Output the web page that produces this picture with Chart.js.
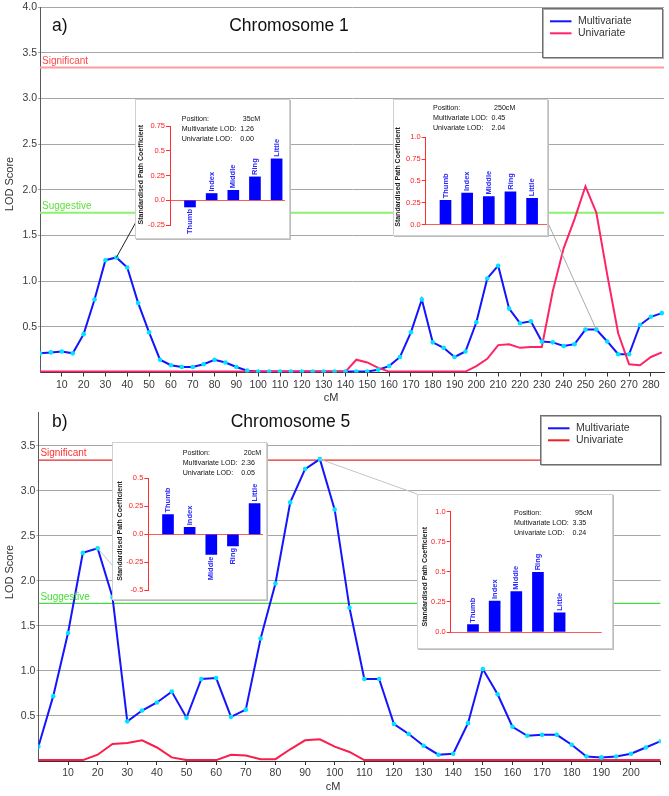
<!DOCTYPE html>
<html>
<head>
<meta charset="utf-8">
<script src="https://cdn.jsdelivr.net/npm/chart.js@4.4.0/dist/chart.umd.min.js"></script>
<style>
  body { margin: 0; background: #fff; }
  #wrap { position: relative; width: 669px; height: 796px; overflow: hidden; background: #fff; }
  canvas { position: absolute; }
  .box { position: absolute; background: #fff; border: 1px solid #d0d0d0; box-sizing: border-box; box-shadow: 1px 1px 0 #bcbcbc; }
</style>
</head>
<body>
<div id="wrap">
  <canvas id="chr1" width="669" height="405" style="left:0;top:0"></canvas>
  <canvas id="chr5" width="669" height="391" style="left:0;top:405px"></canvas>
</div>
<script>
Chart.defaults.font.family = '"Liberation Sans", Arial, Helvetica, sans-serif';
Chart.defaults.animation = false;

// --- Chromosome 1 (LOD por posição, cM) ---
const chr1Pos = [0, 5, 10, 15, 20, 25, 30, 35, 40, 45, 50, 55, 60, 65, 70, 75, 80, 85, 90, 95,
  100, 105, 110, 115, 120, 125, 130, 135, 140, 145, 150, 155, 160, 165, 170, 175, 180, 185, 190, 195,
  200, 205, 210, 215, 220, 225, 230, 235, 240, 245, 250, 255, 260, 265, 270, 275, 280, 285];
const chr1Multi = [0.21, 0.22, 0.23, 0.21, 0.42, 0.80, 1.23, 1.26, 1.15, 0.76, 0.44, 0.14, 0.08, 0.06, 0.06, 0.09, 0.14, 0.11, 0.06, 0.02,
  0.01, 0.01, 0.01, 0.01, 0.01, 0.01, 0.01, 0.01, 0.01, 0.01, 0.01, 0.03, 0.07, 0.17, 0.44, 0.80, 0.33, 0.27, 0.17, 0.23,
  0.55, 1.03, 1.17, 0.70, 0.54, 0.56, 0.34, 0.33, 0.29, 0.31, 0.47, 0.47, 0.34, 0.20, 0.20, 0.52, 0.61, 0.65];
const chr1Uni = [0.01, 0.01, 0.01, 0.01, 0.01, 0.01, 0.01, 0.01, 0.01, 0.01, 0.01, 0.01, 0.01, 0.01, 0.01, 0.01, 0.01, 0.01, 0.01, 0.01,
  0.01, 0.01, 0.01, 0.01, 0.01, 0.01, 0.01, 0.01, 0.01, 0.14, 0.11, 0.05, 0.01, 0.01, 0.01, 0.01, 0.01, 0.01, 0.01, 0.01,
  0.07, 0.15, 0.30, 0.31, 0.27, 0.28, 0.28, 0.89, 1.36, 1.68, 2.04, 1.75, 1.07, 0.43, 0.09, 0.08, 0.17, 0.22];
const chr1XTicks = [10, 20, 30, 40, 50, 60, 70, 80, 90, 100, 110, 120, 130, 140, 150, 160, 170, 180, 190, 200, 210, 220, 230, 240, 250, 260, 270, 280];
const chr1YTicks = [0.5, 1.0, 1.5, 2.0, 2.5, 3.0, 3.5, 4.0];

// --- Chromosome 5 ---
const chr5Pos = [0, 5, 10, 15, 20, 25, 30, 35, 40, 45, 50, 55, 60, 65, 70, 75, 80, 85, 90, 95,
  100, 105, 110, 115, 120, 125, 130, 135, 140, 145, 150, 155, 160, 165, 170, 175, 180, 185, 190, 195, 200, 205, 210];
const chr5Multi = [0.16, 0.72, 1.42, 2.31, 2.36, 1.82, 0.44, 0.56, 0.65, 0.77, 0.48, 0.91, 0.92, 0.49, 0.57, 1.36, 1.97, 2.87, 3.24, 3.35,
  2.79, 1.70, 0.91, 0.91, 0.41, 0.30, 0.17, 0.07, 0.08, 0.42, 1.02, 0.74, 0.38, 0.28, 0.29, 0.29, 0.18, 0.05, 0.04, 0.05, 0.08, 0.15, 0.22];
const chr5Uni = [0.01, 0.01, 0.01, 0.01, 0.07, 0.19, 0.20, 0.23, 0.15, 0.04, 0.01, 0.01, 0.01, 0.07, 0.06, 0.02, 0.02, 0.13, 0.23, 0.24,
  0.16, 0.10, 0.01, 0.01, 0.01, 0.01, 0.01, 0.01, 0.01, 0.01, 0.01, 0.01, 0.01, 0.01, 0.01, 0.01, 0.01, 0.01, 0.01, 0.01, 0.01, 0.01, 0.01];
const chr5XTicks = [10, 20, 30, 40, 50, 60, 70, 80, 90, 100, 110, 120, 130, 140, 150, 160, 170, 180, 190, 200, 210];
const chr5YTicks = [0.5, 1.0, 1.5, 2.0, 2.5, 3.0, 3.5];

// Limiares
const SIGNIFICANT = 3.34;
const SUGGESTIVE = 1.75;

// --- Coeficientes dos quadros internos ---
const fingers = ['Thumb', 'Index', 'Middle', 'Ring', 'Little'];
const coefChr1At35 = [-0.068, 0.068, 0.10, 0.236, 0.418];
const coefChr1At250 = [0.277, 0.36, 0.32, 0.376, 0.30];
const coefChr5At20 = [0.176, 0.063, -0.18, -0.104, 0.274];
const coefChr5At95 = [0.061, 0.258, 0.335, 0.496, 0.16];

const FONT = '"Liberation Sans", Arial, Helvetica, sans-serif';
const BLUE = '#1414ff';

// textos, legenda e linhas de ligação do gráfico principal
const mainDecor = {
  id: 'mainDecor',
  afterDatasetsDraw(chart, args, o) {
    const { ctx, chartArea: a, scales: { x, y } } = chart;
    ctx.save();
    // linhas para os quadros
    o.leaders.forEach(l => {
      const p = chart.data.datasets[0].data[l.index];
      ctx.strokeStyle = l.color;
      ctx.lineWidth = 1;
      ctx.beginPath();
      ctx.moveTo(x.getPixelForValue(p.x), y.getPixelForValue(p.y));
      ctx.lineTo(l.to[0], l.to[1]);
      ctx.stroke();
    });
    // rótulos dos limiares
    ctx.font = '10px ' + FONT;
    ctx.textAlign = 'left';
    ctx.textBaseline = 'middle';
    ctx.fillStyle = o.sigText;
    ctx.fillText('Significant', a.left + 2, y.getPixelForValue(SIGNIFICANT) - 6.5);
    ctx.fillStyle = o.sugText;
    ctx.fillText('Suggestive', a.left + 2, y.getPixelForValue(SUGGESTIVE) - 6.5);
    // título
    ctx.fillStyle = '#111';
    ctx.font = '17.5px ' + FONT;
    ctx.fillText(o.letter, 52, o.titleY);
    ctx.textAlign = 'center';
    ctx.fillText(o.title, o.titleX, o.titleY);
    // eixos
    ctx.font = '11px ' + FONT;
    ctx.fillStyle = '#333';
    ctx.fillText('cM', o.xTitle[0], o.xTitle[1]);
    ctx.save();
    ctx.translate(10, o.yTitleY);
    ctx.rotate(-Math.PI / 2);
    ctx.fillText('LOD Score', 0, 0);
    ctx.restore();
    // legenda
    const L = o.legend;
    ctx.fillStyle = '#fff';
    ctx.fillRect(L.x, L.y, 120, 49);
    ctx.strokeStyle = '#b0b0b0';
    ctx.lineWidth = 1;
    ctx.strokeRect(L.x + 1, L.y + 1, 120, 49);
    ctx.strokeStyle = '#6e6e6e';
    ctx.strokeRect(L.x, L.y, 120, 49);
    [['Multivariate', BLUE], ['Univariate', o.uniColor]].forEach((e, i) => {
      const ly = L.y + 12.8 + i * 12;
      ctx.strokeStyle = e[1];
      ctx.lineWidth = 2;
      ctx.beginPath();
      ctx.moveTo(L.x + 7.5, ly);
      ctx.lineTo(L.x + 29, ly);
      ctx.stroke();
      ctx.fillStyle = '#333';
      ctx.font = '10.5px ' + FONT;
      ctx.textAlign = 'left';
      ctx.fillText(e[0], L.x + 35.5, ly);
    });
    ctx.restore();
  }
};

function mainChart(id, o) {
  const xy = vals => o.pos.map((p, i) => ({ x: p, y: vals[i] }));
  return new Chart(document.getElementById(id), {
    type: 'line',
    data: {
      datasets: [
        { data: xy(o.multi), showLine: false, pointRadius: 2.3, pointBackgroundColor: '#00e4ff', pointBorderWidth: 0 },
        { data: xy(o.uni), borderColor: o.uniColor, borderWidth: 2, pointRadius: 0 },
        { data: xy(o.multi), borderColor: BLUE, borderWidth: 2, pointRadius: 0 },
        { data: [{ x: 0, y: SIGNIFICANT }, { x: o.xMax, y: SIGNIFICANT }], borderColor: o.sigColor, borderWidth: o.thrWidth, pointRadius: 0 },
        { data: [{ x: 0, y: SUGGESTIVE }, { x: o.xMax, y: SUGGESTIVE }], borderColor: o.sugColor, borderWidth: o.thrWidth, pointRadius: 0 }
      ]
    },
    options: {
      responsive: false,
      animation: false,
      events: [],
      layout: { padding: { top: o.padTop, right: o.padRight, left: 0, bottom: 0 } },
      scales: {
        x: {
          type: 'linear', min: 0, max: o.xMax,
          afterBuildTicks: s => { s.ticks = o.xTicks.map(v => ({ value: v })); },
          afterFit: s => { s.height = o.xAxisH; },
          ticks: { autoSkip: false, maxRotation: 0, color: '#3a3a3a', font: { size: 10.5 }, padding: 2,
            callback: v => (v >= o.xMax ? '' : String(v)) },
          grid: { drawOnChartArea: false, color: '#333', tickLength: 4 },
          border: { color: '#333' }
        },
        y: {
          min: 0, max: o.yMax,
          afterBuildTicks: s => { s.ticks = o.yTicks.map(v => ({ value: v })); },
          afterFit: s => { s.width = o.yAxisW; },
          ticks: { color: '#3a3a3a', font: { size: 10.5 }, padding: 1, callback: v => v.toFixed(1) },
          grid: { color: '#a6a6a6', tickLength: 2 },
          border: { color: '#5a5a5a' }
        }
      },
      plugins: { legend: { display: false }, tooltip: { enabled: false }, mainDecor: o.decor }
    },
    plugins: [mainDecor]
  });
}

mainChart('chr1', {
  pos: chr1Pos, multi: chr1Multi, uni: chr1Uni, xTicks: chr1XTicks, yTicks: chr1YTicks,
  xMax: 286, yMax: 4, padTop: 7.3, padRight: 5, xAxisH: 32.5, yAxisW: 40,
  uniColor: '#ff2466', sigColor: '#ff9c9c', sugColor: '#8cf070', thrWidth: 2,
  decor: {
    letter: 'a)', title: 'Chromosome 1', titleX: 289, titleY: 26,
    xTitle: [331, 398], yTitleY: 184, legend: { x: 542.5, y: 8.5 }, uniColor: '#ff2466',
    sigText: '#ff4848', sugText: '#5ee03c',
    leaders: [{ index: chr1Pos.indexOf(35), to: [136, 222], color: '#222' },
              { index: chr1Pos.indexOf(255), to: [548, 223], color: '#aaa' }]
  }
});

mainChart('chr5', {
  pos: chr5Pos, multi: chr5Multi, uni: chr5Uni, xTicks: chr5XTicks, yTicks: chr5YTicks,
  xMax: 210, yMax: 3.87, padTop: 2.7, padRight: 8.4, xAxisH: 35, yAxisW: 38.4,
  uniColor: '#f8204a', sigColor: '#e82828', sugColor: '#4ad84a', thrWidth: 1.2,
  decor: {
    letter: 'b)', title: 'Chromosome 5', titleX: 290.5, titleY: 16.7,
    xTitle: [333, 381.7], yTitleY: 167, legend: { x: 540.5, y: 10.5 }, uniColor: '#f02020',
    sigText: '#ff3030', sugText: '#44dd33',
    leaders: [{ index: chr5Pos.indexOf(20), to: [112, 160], color: '#c4c4c4' },
              { index: chr5Pos.indexOf(95), to: [417, 89], color: '#c4c4c4' }]
  }
});

// --- quadros internos com coeficientes ---
const insetDecor = {
  id: 'insetDecor',
  afterDatasetsDraw(chart, args, o) {
    const ctx = chart.ctx;
    const meta = chart.getDatasetMeta(0);
    ctx.save();
    ctx.font = 'bold 7.5px ' + FONT;
    ctx.fillStyle = '#2828ff';
    ctx.textBaseline = 'middle';
    meta.data.forEach((bar, i) => {
      const v = o.values[i];
      ctx.save();
      ctx.translate(bar.x, v >= 0 ? bar.y - 2 : bar.y + 2);
      ctx.rotate(-Math.PI / 2);
      ctx.textAlign = v >= 0 ? 'left' : 'right';
      ctx.fillText(fingers[i], 0, 0);
      ctx.restore();
    });
    ctx.font = '7.1px ' + FONT;
    ctx.fillStyle = '#111';
    ctx.textAlign = 'left';
    const rows = [['Position:', o.pos, 61], ['Multivariate LOD:', o.multi, 58.5], ['Univariate LOD:', o.uni, 58.5]];
    rows.forEach((r, i) => {
      ctx.fillText(r[0], o.textX, o.textY + i * 10);
      ctx.fillText(r[1], o.textX + r[2], o.textY + i * 10);
    });
    ctx.save();
    ctx.translate(o.titleX, o.titleY);
    ctx.rotate(-Math.PI / 2);
    ctx.textAlign = 'center';
    ctx.font = 'bold 7px ' + FONT;
    ctx.fillStyle = '#222';
    ctx.fillText('Standardised Path Coefficient', 0, 0);
    ctx.restore();
    ctx.restore();
  }
};

function inset(c) {
  const wrap = document.getElementById('wrap');
  const box = document.createElement('div');
  box.className = 'box';
  Object.assign(box.style, { left: c.x + 'px', top: c.y + 'px', width: c.w + 'px', height: c.h + 'px' });
  wrap.appendChild(box);
  const cv = document.createElement('canvas');
  cv.width = c.w; cv.height = c.h;
  Object.assign(cv.style, { left: c.x + 'px', top: c.y + 'px' });
  wrap.appendChild(cv);

  const step = 21.65; // distância entre barras em px
  const xMin = 1 - (c.c1 - c.axisX) / step;
  const xMax = xMin + (c.right - c.axisX) / step;
  new Chart(cv, {
    type: 'bar',
    data: { datasets: [{ data: c.values.map((v, i) => ({ x: i + 1, y: v })), backgroundColor: '#0000ff',
      barThickness: 11, grouped: false }] },
    options: {
      responsive: false, animation: false, events: [],
      layout: { padding: { left: 0, top: c.top - c.y, right: c.x + c.w - c.right, bottom: c.y + c.h - c.bottom } },
      scales: {
        x: { type: 'linear', offset: false, display: false, min: xMin, max: xMax },
        y: {
          min: c.yMin, max: c.yMax,
          afterFit: s => { s.width = c.axisX - c.x; },
          ticks: { stepSize: 0.25, color: '#ff2020', font: { size: 7.5 }, padding: 1,
            callback: v => (Math.abs(v * 2 - Math.round(v * 2)) < 1e-9 ? v.toFixed(1) : v.toFixed(2)) },
          grid: { color: ctx => (ctx.tick && ctx.tick.value === 0 ? '#ff5a5a' : 'rgba(0,0,0,0)'), tickColor: '#ff3030', tickLength: 4 },
          border: { color: '#ff3030' }
        }
      },
      plugins: { legend: { display: false }, tooltip: { enabled: false }, insetDecor: c.decor }
    },
    plugins: [insetDecor]
  });
}

inset({ x: 135, y: 99, w: 155, h: 140, axisX: 170, top: 126, bottom: 225, right: 285, c1: 190,
  yMin: -0.25, yMax: 0.75, values: coefChr1At35,
  decor: { values: coefChr1At35, pos: '35cM', multi: '1.26', uni: '0.00', textX: 46.7, textY: 20.3, titleX: 6.5, titleY: 75.6 } });
inset({ x: 393, y: 99, w: 155, h: 137, axisX: 425.7, top: 137.3, bottom: 224.5, right: 547, c1: 445.5,
  yMin: 0, yMax: 1, values: coefChr1At250,
  decor: { values: coefChr1At250, pos: '250cM', multi: '0.45', uni: '2.04', textX: 40, textY: 9.3, titleX: 5.3, titleY: 78 } });
inset({ x: 112, y: 442, w: 155, h: 158, axisX: 148.3, top: 478.3, bottom: 590.3, right: 263, c1: 168,
  yMin: -0.5, yMax: 0.5, values: coefChr5At20,
  decor: { values: coefChr5At20, pos: '20cM', multi: '2.36', uni: '0.05', textX: 70.7, textY: 10.7, titleX: 8, titleY: 89 } });
inset({ x: 417, y: 494, w: 196, h: 155, axisX: 450.7, top: 511.7, bottom: 632, right: 601.7, c1: 473,
  yMin: 0, yMax: 1, values: coefChr5At95,
  decor: { values: coefChr5At95, pos: '95cM', multi: '3.35', uni: '0.24', textX: 97, textY: 19.3, titleX: 8, titleY: 82.7 } });
</script>
</body>
</html>
